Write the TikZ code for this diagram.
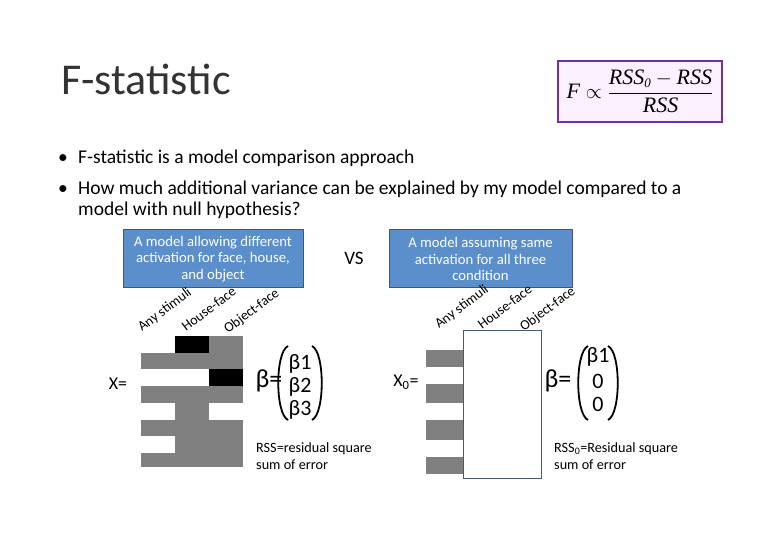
\documentclass[tikz,border=0pt]{standalone}
\usepackage{fontspec}
\setmainfont{Carlito}
\newfontfamily\tms{Liberation Serif}
\begin{document}
\begin{tikzpicture}[x=1pt,y=-1pt,
  bluebox/.style={draw=blue!40!black!70,fill={rgb,255:red,91;green,143;blue,203},line width=1pt,text=white,font=\fontsize{14.7}{16.5}\selectfont,align=center,inner sep=0},
  lab/.style={font=\fontsize{14}{16}\selectfont,anchor=base west,rotate=37,inner sep=0},
  txt/.style={font=\fontsize{19.5}{22}\selectfont,anchor=base west,inner sep=0},
  sm/.style={font=\fontsize{14.2}{16}\selectfont,anchor=base west,inner sep=0},
  beta/.style={font=\fontsize{22}{24}\selectfont,inner sep=0},
  paren/.style={line width=1.8pt}]
\useasboundingbox (0,0) rectangle (780,540);
\fill[white] (0,0) rectangle (780,540);
\node[font=\fontsize{44}{48}\selectfont,anchor=base west,inner sep=0,text=black!80] (title) at (61,95) {F-statistic};
\node[draw={rgb,255:red,112;green,48;blue,160},fill={rgb,255:red,250;green,240;blue,255},line width=2pt,minimum width=164pt,minimum height=61pt] (fbox) at (640,91.5) {};
\node[font=\tms\itshape\fontsize{22}{24}\selectfont,inner sep=0] (feq) at (640,91.5) {$\displaystyle \mbox{F} \propto \frac{\mbox{RSS}_{\mbox{\fontsize{13}{13}\selectfont 0}} - \mbox{RSS}}{\mbox{RSS}}$};
\node[txt] (b1d) at (58,164) {\textbullet};
\node[txt] (b1) at (78,164) {F-statistic is a model comparison approach};
\node[txt] (b2d) at (58,195) {\textbullet};
\node[txt] (b2) at (78,195) {How much additional variance can be explained by my model compared to a};
\node[txt] (b2b) at (78,216) {model with null hypothesis?};
\node[bluebox,minimum width=180pt,minimum height=58pt] (m1) at (213,259) {A model allowing different\\activation for face, house,\\and object};
\node[bluebox,minimum width=183pt,minimum height=58pt] (m2) at (480.5,259) {A model assuming same\\activation for all three\\condition};
\node[font=\fontsize{19}{22}\selectfont] (vs) at (354,258) {VS};
\node[lab] (l1) at (142,332) {Any stimuli};
\node[lab] (l2) at (186,332) {House-face};
\node[lab] (l3) at (228,334) {Object-face};
\node[lab] (r1) at (439,329) {Any stimuli};
\node[lab] (r2) at (482,330) {House-face};
\node[lab] (r3) at (524,332) {Object-face};
\fill[black!50] (141,336) rectangle (243,467);
\foreach \a/\b/\y/\c in {141/175/336/white,175/209/336/black,
  141/209/369/white,209/243/369/black,
  141/175/403/white,209/243/403/white,
  141/175/436/white}
  \fill[\c] (\a,\y) rectangle (\b,\y+17);
\node[font=\fontsize{18}{20}\selectfont] (X) at (118,384) {X=};
\node[font=\fontsize{26}{28}\selectfont,inner sep=0] (beq) at (269,381) {β=};
\draw[paren] (288,346) .. controls (275,352) and (275,414) .. (288,420);
\draw[paren] (312,346) .. controls (325,352) and (325,414) .. (312,420);
\node[beta] (bb1) at (300,364) {β1};
\node[beta] (bb2) at (300,387) {β2};
\node[beta] (bb3) at (300,410) {β3};
\node[sm] (rss1) at (256,452) {RSS=residual square};
\node[sm] (rss2) at (256,469) {sum of error};
\fill[black!50] (426,333) rectangle (463,474);
\foreach \y in {333,367,403,440} \fill[white] (426,\y) rectangle (463,\y+17);
\draw[draw={rgb,255:red,70;green,90;blue,120},line width=1pt,fill=white] (463,331) rectangle (541,478);
\node[font=\fontsize{18}{20}\selectfont] (X0) at (406,382) {X\textsubscript{0}=};
\node[font=\fontsize{26}{28}\selectfont,inner sep=0] (beq2) at (558,381) {β=};
\draw[paren] (588,346) .. controls (575,352) and (575,414) .. (588,420);
\draw[paren] (608,346) .. controls (621,352) and (621,414) .. (608,420);
\node[beta] (c1) at (598,357) {β1};
\node[beta] (c2) at (598,381) {0};
\node[beta] (c3) at (598,404) {0};
\node[sm] (rss3) at (554,452) {RSS\textsubscript{0}=Residual square};
\node[sm] (rss4) at (554,469) {sum of error};
\end{tikzpicture}
\end{document}
